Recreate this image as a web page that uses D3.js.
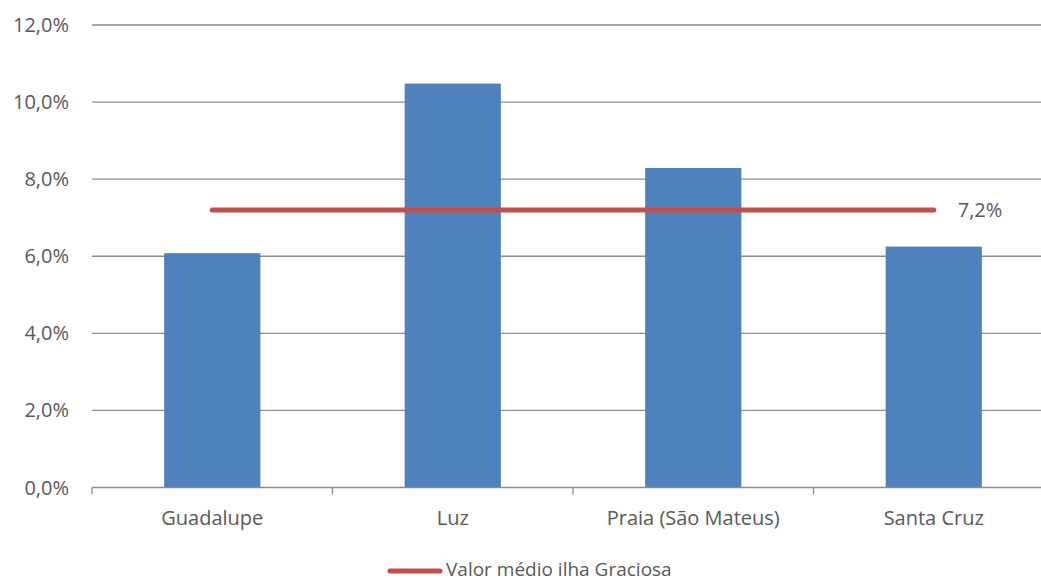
<!DOCTYPE html>
<html>
<head>
<meta charset="utf-8">
<script src="https://cdn.jsdelivr.net/npm/d3@7"></script>
<style>
  body { margin: 0; background: #fff; }
  text { font-family: "Open Sans", sans-serif; fill: #595959; }
</style>
</head>
<body>
<div id="wrapper"></div>
<script>
// data
var categories = ["Guadalupe", "Luz", "Praia (São Mateus)", "Santa Cruz"];
var values = [6.08, 10.48, 8.29, 6.25];
var meanValue = 7.2;
var meanLabel = "7,2%";
var legendLabel = "Valor médio ilha Graciosa";
var yTicks = [0, 2, 4, 6, 8, 10, 12];

var width = 1041, height = 581;
var margin = { top: 25, left: 92, right: 1054, bottom: 487.5 };

var svg = d3.select("#wrapper").append("svg")
    .attr("width", width)
    .attr("height", height);

var xScale = d3.scaleBand()
    .domain(categories)
    .range([margin.left, margin.right])
    .paddingInner(0.6)
    .paddingOuter(0.3);

var yScale = d3.scaleLinear()
    .domain([0, 12])
    .range([margin.bottom, margin.top]);

var fmt = function (d) { return d.toFixed(1).replace(".", ",") + "%"; };

// gridlines
svg.append("g").selectAll("line")
    .data(yTicks.filter(function (d) { return d > 0; }))
    .enter().append("line")
    .attr("x1", margin.left).attr("x2", margin.right)
    .attr("y1", function (d) { return yScale(d); })
    .attr("y2", function (d) { return yScale(d); })
    .attr("stroke", "#8c8c8c")
    .attr("stroke-width", 1.3);

// y labels
svg.append("g").selectAll("text")
    .data(yTicks)
    .enter().append("text")
    .attr("x", 69)
    .attr("y", function (d) { return yScale(d); })
    .attr("dy", "0.35em")
    .attr("text-anchor", "end")
    .style("font-size", "20px")
    .text(fmt);

// bars
svg.append("g").selectAll("rect")
    .data(values)
    .enter().append("rect")
    .attr("x", function (d, i) { return xScale(categories[i]); })
    .attr("y", function (d) { return yScale(d); })
    .attr("width", xScale.bandwidth())
    .attr("height", function (d) { return yScale(0) - yScale(d); })
    .attr("fill", "#4F81BD");

// x axis
var step = xScale.step();
var tickXs = d3.range(categories.length + 1).map(function (i) { return margin.left + i * step; });
svg.append("line")
    .attr("x1", margin.left).attr("x2", margin.right)
    .attr("y1", yScale(0)).attr("y2", yScale(0))
    .attr("stroke", "#8c8c8c").attr("stroke-width", 1.3);
svg.append("g").selectAll("line")
    .data(tickXs)
    .enter().append("line")
    .attr("x1", function (d) { return d; }).attr("x2", function (d) { return d; })
    .attr("y1", yScale(0)).attr("y2", yScale(0) + 7)
    .attr("stroke", "#8c8c8c").attr("stroke-width", 1.3);

svg.append("g").selectAll("text")
    .data(categories)
    .enter().append("text")
    .attr("x", function (d) { return xScale(d) + xScale.bandwidth() / 2; })
    .attr("y", 525)
    .attr("text-anchor", "middle")
    .style("font-size", "20px")
    .text(function (d) { return d; });

// mean line
var x0 = xScale(categories[0]) + xScale.bandwidth() / 2;
var x1 = xScale(categories[categories.length - 1]) + xScale.bandwidth() / 2;
svg.append("line")
    .attr("x1", x0).attr("x2", x1)
    .attr("y1", yScale(meanValue)).attr("y2", yScale(meanValue))
    .attr("stroke", "#C0504D")
    .attr("stroke-width", 5)
    .attr("stroke-linecap", "round");
svg.append("text")
    .attr("x", x1 + 24)
    .attr("y", yScale(meanValue))
    .attr("dy", "0.35em")
    .style("font-size", "20px")
    .text(meanLabel);

// legend
svg.append("line")
    .attr("x1", 390).attr("x2", 440)
    .attr("y1", 571).attr("y2", 571)
    .attr("stroke", "#C0504D")
    .attr("stroke-width", 5)
    .attr("stroke-linecap", "round");
svg.append("text")
    .attr("x", 446)
    .attr("y", 576)
    .style("font-size", "19px")
    .text(legendLabel);
</script>
</body>
</html>
